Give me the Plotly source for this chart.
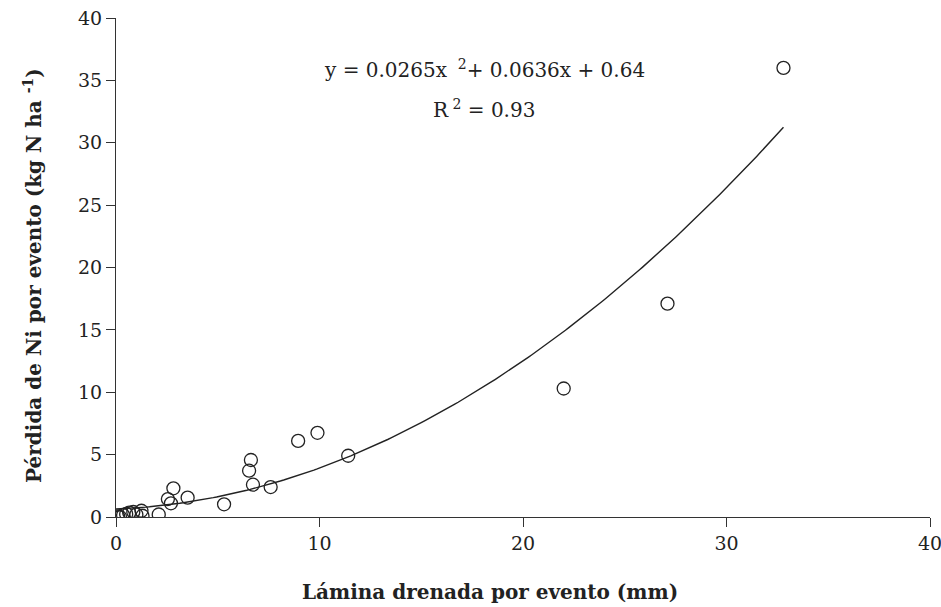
import numpy as np
import plotly.graph_objects as go

# Data
lamina = [0.1, 0.2, 0.35, 0.5, 0.65, 0.85, 1.0, 1.25, 1.3, 2.1,
          2.55, 2.7, 2.82, 3.52, 5.31, 6.54, 6.63, 6.73, 7.6, 8.95,
          9.9, 11.41, 22.0, 27.1, 32.8]
perdida = [0.05, 0.0, 0.15, 0.25, 0.35, 0.4, 0.2, 0.5, 0.1, 0.2,
           1.44, 1.1, 2.3, 1.55, 1.02, 3.71, 4.57, 2.59, 2.4, 6.1,
           6.75, 4.91, 10.3, 17.1, 36.0]

# Polynomial trend coefficients shown on the chart (a x^2 + b x + c)
trend_coef = [0.0265, 0.0636, 0.64]
x_ticks = [0, 10, 20, 30, 40]
y_ticks = [0, 5, 10, 15, 20, 25, 30, 35, 40]

xt = np.linspace(0, max(lamina), 200)
yt = np.polyval(trend_coef, xt)

FONT = "DejaVu Serif"
INK = "#222222"

fig = go.Figure()
fig.add_trace(go.Scatter(x=xt, y=yt, mode="lines",
                         line=dict(color=INK, width=1.4),
                         hoverinfo="skip", showlegend=False))
fig.add_trace(go.Scatter(x=lamina, y=perdida, mode="markers",
                         marker=dict(symbol="circle-open", size=13,
                                     color=INK, line=dict(width=1.3, color=INK)),
                         showlegend=False))

fig.add_annotation(x=18.1, y=35.9, xref="x", yref="y",
                   text="y = 0.0265x <sup> 2</sup>+ 0.0636x + 0.64",
                   showarrow=False, font=dict(family=FONT, size=20, color=INK))
fig.add_annotation(x=18.1, y=32.7, xref="x", yref="y",
                   text="R<sup> 2</sup> = 0.93",
                   showarrow=False, font=dict(family=FONT, size=20, color=INK))

# Axis titles
fig.add_annotation(x=0.459, y=-0.150, xref="paper", yref="paper",
                   xanchor="center", yanchor="middle",
                   text="<b>Lámina drenada por evento (mm)</b>",
                   showarrow=False, font=dict(family=FONT, size=20, color=INK))
fig.add_annotation(x=-0.102, y=0.485, xref="paper", yref="paper",
                   xanchor="center", yanchor="middle", textangle=-90,
                   text="<b>Pérdida de Ni por evento (kg N ha <sup>-1</sup>)</b>",
                   showarrow=False, font=dict(family=FONT, size=20, color=INK))

fig.update_layout(
    width=941, height=607,
    margin=dict(l=116, r=11, t=18, b=90),
    plot_bgcolor="white", paper_bgcolor="white",
    font=dict(family=FONT, size=19, color=INK),
    xaxis=dict(range=[0, 40], tickvals=x_ticks, showgrid=False, zeroline=False,
               automargin=False, ticklabeloverflow="allow",
               showline=True, linecolor="#333333", linewidth=1.2,
               ticks="outside", ticklen=9, tickcolor="#333333",
               tickfont=dict(family=FONT, size=19, color=INK)),
    yaxis=dict(range=[0, 40], tickvals=y_ticks, showgrid=False, zeroline=False,
               automargin=False, ticklabeloverflow="allow",
               showline=True, linecolor="#333333", linewidth=1.2,
               ticks="outside", ticklen=9, tickcolor="#333333",
               tickfont=dict(family=FONT, size=19, color=INK)),
)

fig.write_html("out.html", config={"displayModeBar": False},
               post_script="document.body.style.margin='0';document.body.style.overflow='hidden';")
